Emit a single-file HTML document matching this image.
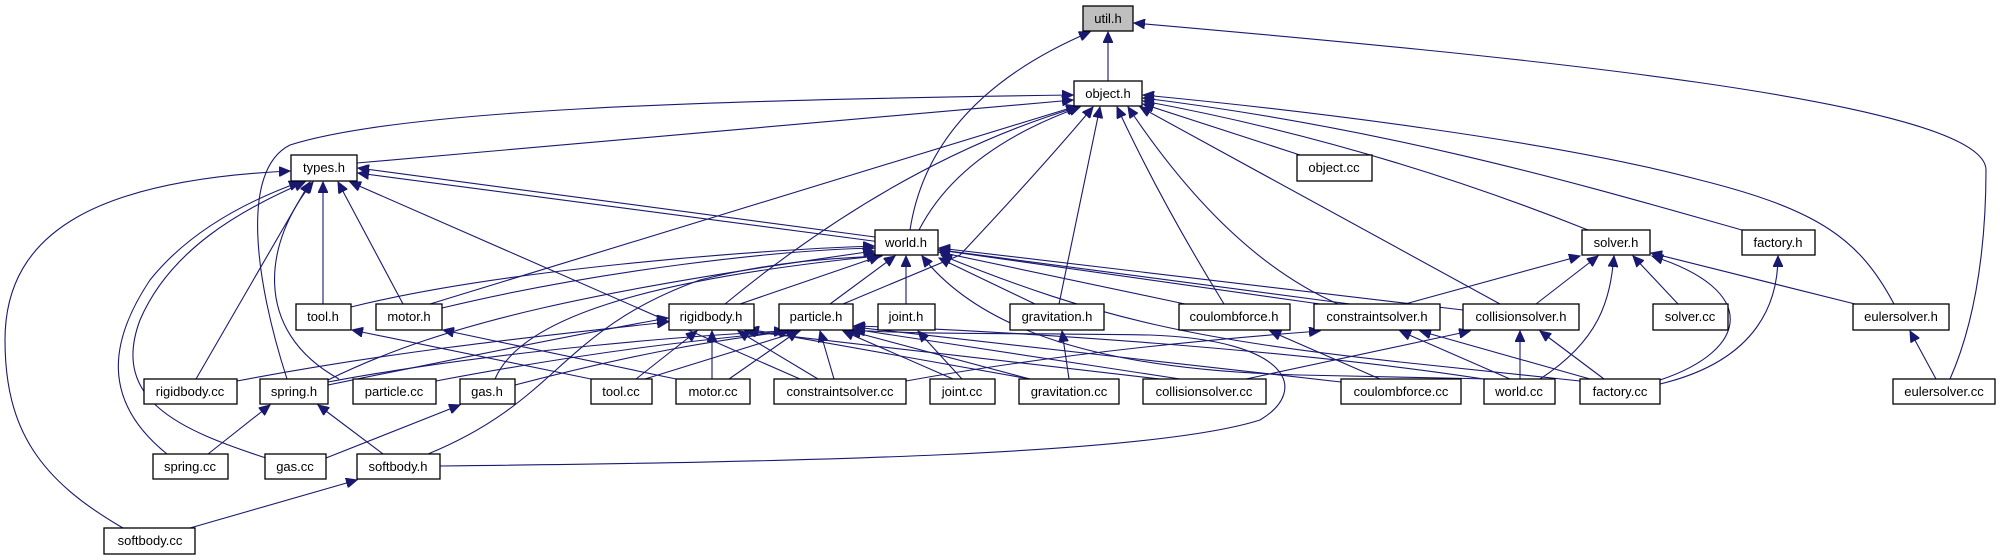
<!DOCTYPE html>
<html><head><meta charset="utf-8"><style>
html,body{margin:0;padding:0;background:#fff;}
svg{display:block;}
text{font-family:"Liberation Sans",Arial,sans-serif;font-size:13px;fill:#000;text-anchor:middle;}
.n{fill:#fff;stroke:#000;stroke-width:1.3;}
.e path{fill:none;stroke:#191970;stroke-width:1.1;marker-end:url(#a);}
</style></head><body>
<svg width="2001" height="560" viewBox="0 0 2001 560" xmlns="http://www.w3.org/2000/svg">
<defs><marker id="a" markerUnits="userSpaceOnUse" markerWidth="12" markerHeight="10" refX="11" refY="5" orient="auto"><path d="M0,0 L11,5 L0,10 z" fill="#191970" stroke="#191970"/></marker></defs>
<g class="e">
<path d="M1108 81 L1108 32"/>
<path d="M910 230 Q930 100 1090 32"/>
<path d="M1950 379 C1985 300 1986 200 1986 170 C1986 100 1500 55 1134 23"/>
<path d="M357 163 L1073 100"/>
<path d="M287 379 C255 280 240 170 290 145 C400 110 700 100 1073 95"/>
<path d="M430 304 L1077 106"/>
<path d="M725 304 Q900 160 1078 107"/>
<path d="M919 230 Q960 150 1080 107"/>
<path d="M843 304 L960 255 Q1040 170 1093 107"/>
<path d="M1059 304 L1100 107"/>
<path d="M1224 304 Q1160 200 1117 107"/>
<path d="M1338 304 C1260 270 1190 200 1128 107"/>
<path d="M1500 304 L1140 107"/>
<path d="M1300 155 L1143 104"/>
<path d="M1588 230 C1450 175 1300 130 1143 101"/>
<path d="M1742 230 C1600 190 1400 130 1143 98"/>
<path d="M1894 304 C1860 240 1820 210 1700 180 C1550 140 1300 110 1143 95"/>
<path d="M875 237 L358 168"/>
<path d="M1350 304 L358 173"/>
<path d="M323 304 L323 182"/>
<path d="M403 304 L338 182"/>
<path d="M196 379 L310 182"/>
<path d="M339 379 C250 330 265 240 313 182"/>
<path d="M167 454 C100 400 110 340 150 280 C190 230 250 200 300 182"/>
<path d="M266 458 C180 430 110 400 140 320 C170 250 240 210 305 182"/>
<path d="M123 528 C40 480 5 430 5 340 C5 230 100 180 290 171"/>
<path d="M800 379 L350 182"/>
<path d="M351 307 C500 270 750 250 874 246"/>
<path d="M442 308 C600 270 780 250 874 248"/>
<path d="M740 304 L880 256"/>
<path d="M830 304 L895 256"/>
<path d="M906 304 L906 256"/>
<path d="M1035 304 L939 258"/>
<path d="M1185 304 L939 252"/>
<path d="M1320 304 L939 250"/>
<path d="M1463 310 L939 248"/>
<path d="M328 380 C450 320 600 290 874 251"/>
<path d="M495 379 C520 320 640 280 878 256"/>
<path d="M428 454 C560 400 560 330 700 280 C780 260 840 258 882 256"/>
<path d="M1490 379 L1300 375 C1100 370 980 330 922 256"/>
<path d="M1580 381 L1400 362 C1200 340 1100 320 941 255"/>
<path d="M237 381 C400 350 550 335 668 322"/>
<path d="M328 385 C450 360 600 330 668 318"/>
<path d="M636 379 L697 331"/>
<path d="M712 379 L712 331"/>
<path d="M818 379 L738 331"/>
<path d="M1160 379 L745 331"/>
<path d="M1030 379 L748 329"/>
<path d="M436 381 C600 350 700 340 790 331"/>
<path d="M328 382 C500 350 700 335 785 331"/>
<path d="M515 385 C650 350 720 340 790 331"/>
<path d="M645 379 L800 331"/>
<path d="M729 379 L798 331"/>
<path d="M834 379 L820 331"/>
<path d="M953 379 L843 331"/>
<path d="M1030 379 L850 331"/>
<path d="M1180 379 L853 329"/>
<path d="M1490 380 C1300 350 1000 330 854 326"/>
<path d="M1341 382 L854 327"/>
<path d="M440 466 C800 462 1150 455 1260 420 C1310 390 1290 340 1150 335 C1000 333 900 334 854 330"/>
<path d="M962 379 L918 331"/>
<path d="M1069 379 L1062 331"/>
<path d="M1380 379 L1270 331"/>
<path d="M906 381 C1050 355 1200 340 1320 331"/>
<path d="M1510 379 L1400 331"/>
<path d="M1590 379 L1420 331"/>
<path d="M1246 379 L1470 331"/>
<path d="M1520 379 L1520 331"/>
<path d="M1604 379 L1540 331"/>
<path d="M1405 304 L1580 256"/>
<path d="M1536 304 L1598 256"/>
<path d="M1540 379 C1600 340 1610 300 1614 256"/>
<path d="M1678 304 L1633 256"/>
<path d="M1660 380 C1750 350 1760 290 1652 256"/>
<path d="M1855 304 L1651 253"/>
<path d="M1660 384 C1760 360 1778 300 1778 256"/>
<path d="M1936 379 L1910 331"/>
<path d="M591 379 L352 330"/>
<path d="M676 379 L443 330"/>
<path d="M208 454 L270 405"/>
<path d="M383 454 L318 405"/>
<path d="M326 458 L460 405"/>
<path d="M190 528 L357 480"/>
</g>
<g>
<rect x="1083" y="6" width="50" height="25" fill="#bfbfbf" stroke="#000" stroke-width="1.3"/><text x="1108" y="23">util.h</text>
<rect class="n" x="1074" y="81" width="68" height="25"/><text x="1108" y="98">object.h</text>
<rect class="n" x="291" y="155" width="66" height="26"/><text x="324" y="172">types.h</text>
<rect class="n" x="1297" y="155" width="75" height="26"/><text x="1334" y="172">object.cc</text>
<rect class="n" x="875" y="230" width="63" height="25"/><text x="906" y="247">world.h</text>
<rect class="n" x="1582" y="230" width="68" height="25"/><text x="1616" y="247">solver.h</text>
<rect class="n" x="1742" y="230" width="73" height="25"/><text x="1778" y="247">factory.h</text>
<rect class="n" x="296" y="304" width="55" height="26"/><text x="323" y="321">tool.h</text>
<rect class="n" x="376" y="304" width="66" height="26"/><text x="409" y="321">motor.h</text>
<rect class="n" x="669" y="304" width="85" height="26"/><text x="711" y="321">rigidbody.h</text>
<rect class="n" x="779" y="304" width="74" height="26"/><text x="816" y="321">particle.h</text>
<rect class="n" x="878" y="304" width="57" height="26"/><text x="906" y="321">joint.h</text>
<rect class="n" x="1010" y="304" width="94" height="26"/><text x="1057" y="321">gravitation.h</text>
<rect class="n" x="1179" y="304" width="111" height="26"/><text x="1234" y="321">coulombforce.h</text>
<rect class="n" x="1314" y="304" width="126" height="26"/><text x="1377" y="321">constraintsolver.h</text>
<rect class="n" x="1463" y="304" width="116" height="26"/><text x="1521" y="321">collisionsolver.h</text>
<rect class="n" x="1653" y="304" width="75" height="26"/><text x="1690" y="321">solver.cc</text>
<rect class="n" x="1853" y="304" width="96" height="26"/><text x="1901" y="321">eulersolver.h</text>
<rect class="n" x="144" y="379" width="93" height="25"/><text x="190" y="396">rigidbody.cc</text>
<rect class="n" x="260" y="379" width="68" height="25"/><text x="294" y="396">spring.h</text>
<rect class="n" x="353" y="379" width="83" height="25"/><text x="394" y="396">particle.cc</text>
<rect class="n" x="460" y="379" width="55" height="25"/><text x="487" y="396">gas.h</text>
<rect class="n" x="591" y="379" width="61" height="25"/><text x="621" y="396">tool.cc</text>
<rect class="n" x="676" y="379" width="74" height="25"/><text x="713" y="396">motor.cc</text>
<rect class="n" x="774" y="379" width="132" height="25"/><text x="840" y="396">constraintsolver.cc</text>
<rect class="n" x="930" y="379" width="65" height="25"/><text x="962" y="396">joint.cc</text>
<rect class="n" x="1019" y="379" width="100" height="25"/><text x="1069" y="396">gravitation.cc</text>
<rect class="n" x="1143" y="379" width="123" height="25"/><text x="1204" y="396">collisionsolver.cc</text>
<rect class="n" x="1341" y="379" width="120" height="25"/><text x="1401" y="396">coulombforce.cc</text>
<rect class="n" x="1484" y="379" width="71" height="25"/><text x="1519" y="396">world.cc</text>
<rect class="n" x="1580" y="379" width="80" height="25"/><text x="1620" y="396">factory.cc</text>
<rect class="n" x="1893" y="379" width="102" height="25"/><text x="1944" y="396">eulersolver.cc</text>
<rect class="n" x="153" y="454" width="75" height="25"/><text x="190" y="471">spring.cc</text>
<rect class="n" x="265" y="454" width="61" height="25"/><text x="295" y="471">gas.cc</text>
<rect class="n" x="357" y="454" width="83" height="25"/><text x="398" y="471">softbody.h</text>
<rect class="n" x="104" y="528" width="91" height="26"/><text x="150" y="545">softbody.cc</text>
</g>
</svg>
</body></html>
